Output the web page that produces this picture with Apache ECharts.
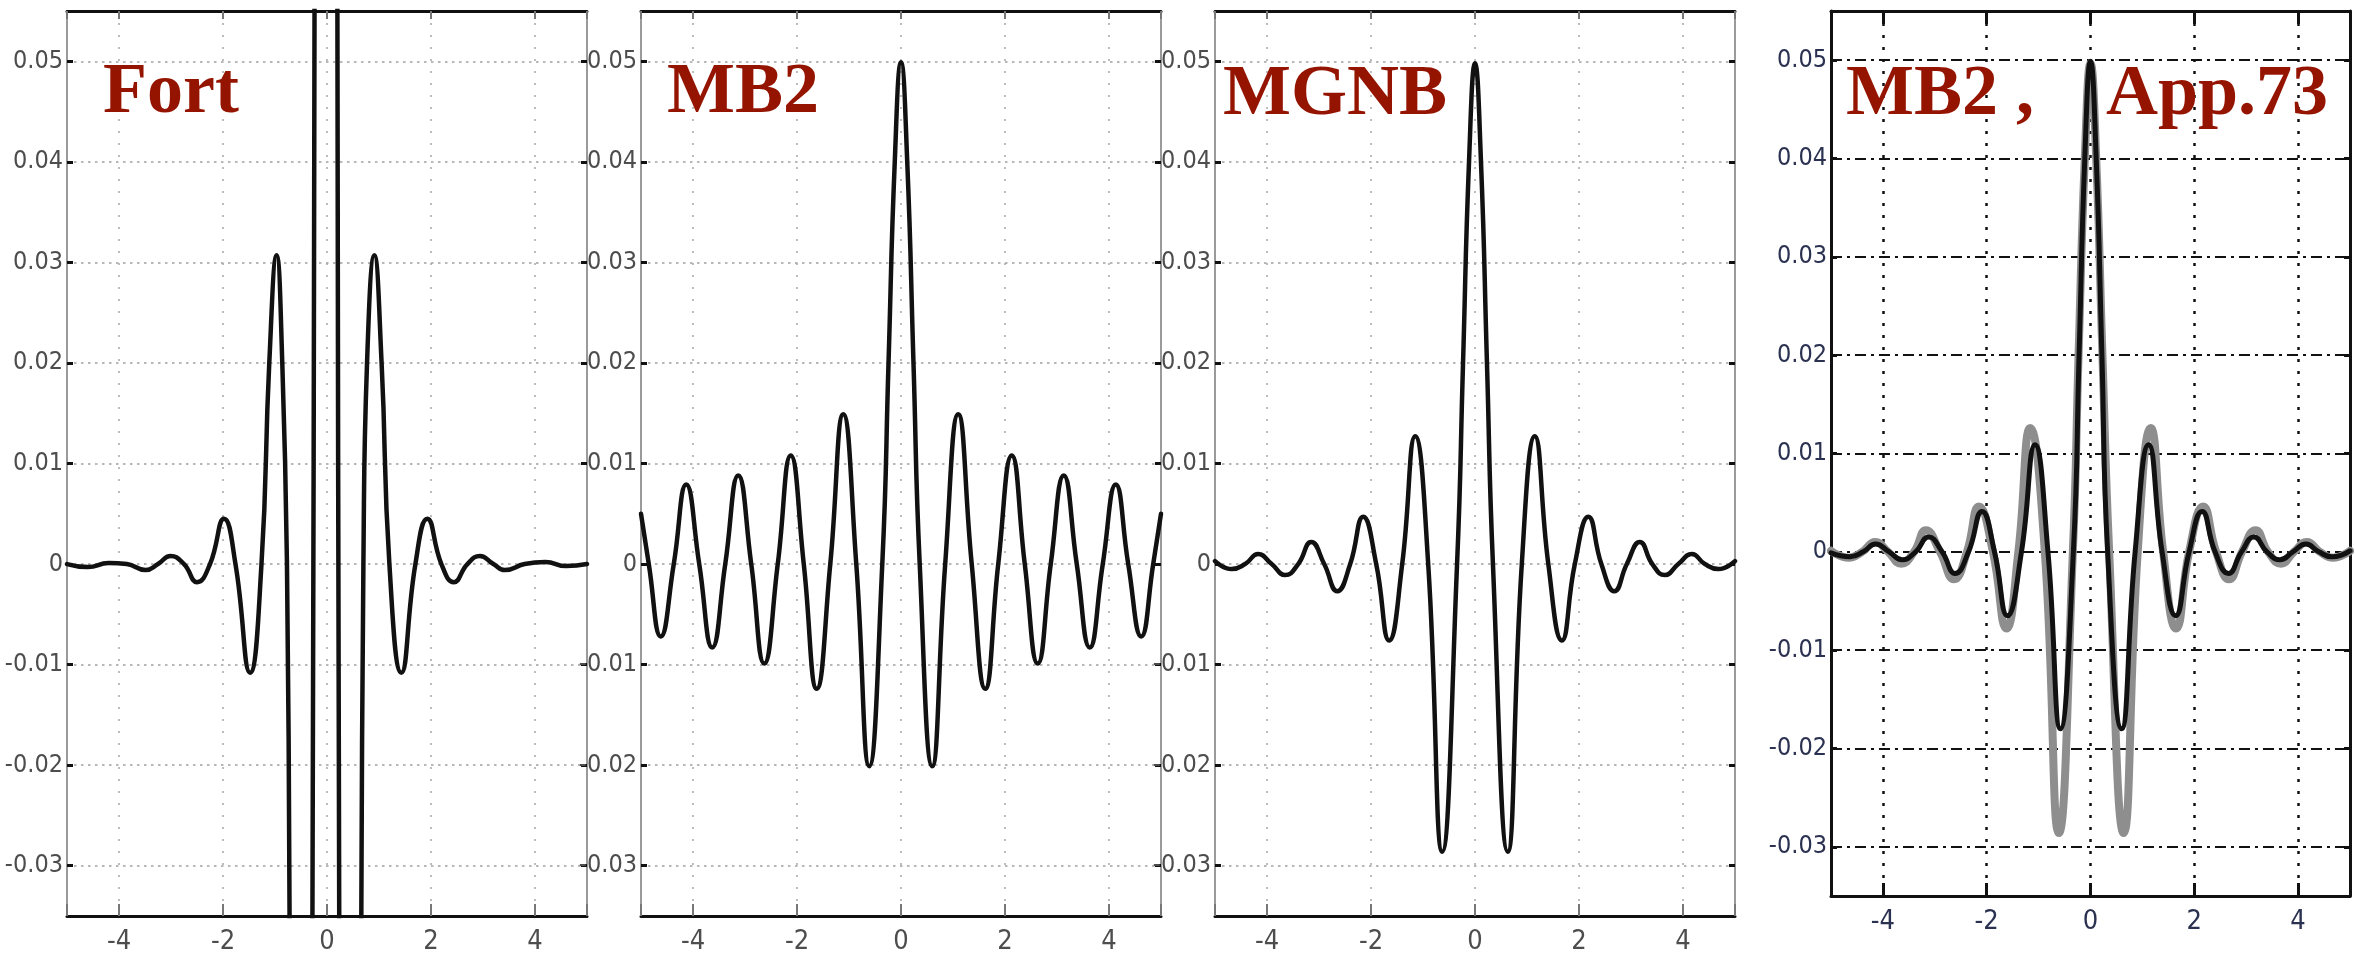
<!DOCTYPE html>
<html>
<head>
<meta charset="utf-8">
<script src="https://cdn.jsdelivr.net/npm/echarts@6/dist/echarts.min.js"></script>
<style>
  html, body { margin: 0; padding: 0; background: #ffffff; }
  #chart { width: 2355px; height: 965px; }
</style>
</head>
<body>
<div id="chart"></div>
<script>
// ---------- panel titles ----------
const panelTitles = ['Fort', 'MB2', 'MGNB', 'MB2 ,    App.73'];

// ---------- tick values / labels ----------
const xTickValues = [-4, -2, 0, 2, 4];
const xTickLabels = ['-4', '-2', '0', '2', '4'];
const yTickValues = [-0.03, -0.02, -0.01, 0, 0.01, 0.02, 0.03, 0.04, 0.05];
const yTickLabels = ['-0.03', '-0.02', '-0.01', '0', '0.01', '0.02', '0.03', '0.04', '0.05'];

// ---------- Fort (panel 1) ----------
const fortX = [-5.00, -4.60, -4.20, -3.85, -3.49, -3.25, -3.01, -2.75, -2.50, -2.25, -1.98, -1.76, -1.48, -1.26, -1.11, -0.97, -0.86, -0.77, -0.72, -0.60, -0.48, -0.36, -0.28, -0.24, -0.12, -0.02, 0.08, 0.20, 0.235, 0.32, 0.44, 0.56, 0.66, 0.70, 0.77, 0.91, 1.05, 1.20, 1.43, 1.70, 1.93, 2.20, 2.44, 2.70, 2.94, 3.20, 3.42, 3.80, 4.20, 4.60, 5.00];
const fortY = [0.0000, -0.0003, 0.0001, 0.0000, -0.0006, 0.0000, 0.0008, 0.0000, -0.0018, 0.0000, 0.0045, 0.0000, -0.0108, 0.0000, 0.0200, 0.0307, 0.0200, 0.0000, -0.0350, -0.1200, -0.1600, -0.1200, -0.0350, 0.0550, 0.2800, 0.3400, 0.2800, 0.0550, -0.0350, -0.1200, -0.1600, -0.1200, -0.0350, 0.0000, 0.0200, 0.0307, 0.0200, 0.0000, -0.0108, 0.0000, 0.0045, 0.0000, -0.0018, 0.0000, 0.0008, 0.0000, -0.0006, 0.0000, 0.0002, -0.0002, 0.0000];

// ---------- MB2 (panel 2) ----------
const mb2X = [-5.00, -4.85, -4.62, -4.37, -4.13, -3.88, -3.63, -3.38, -3.13, -2.88, -2.63, -2.37, -2.12, -1.87, -1.62, -1.36, -1.11, -0.86, -0.61, -0.36, -0.24, -0.12, 0.00, 0.12, 0.24, 0.36, 0.60, 0.85, 1.10, 1.36, 1.62, 1.87, 2.13, 2.38, 2.63, 2.88, 3.13, 3.38, 3.63, 3.88, 4.13, 4.37, 4.62, 4.85, 5.00];
const mb2Y = [0.0050, 0.0000, -0.0072, 0.0000, 0.0079, 0.0000, -0.0083, 0.0000, 0.0088, 0.0000, -0.0099, 0.0000, 0.0108, 0.0000, -0.0124, 0.0000, 0.0149, 0.0000, -0.0201, 0.0000, 0.0200, 0.0400, 0.0499, 0.0400, 0.0200, 0.0000, -0.0201, 0.0000, 0.0149, 0.0000, -0.0124, 0.0000, 0.0108, 0.0000, -0.0099, 0.0000, 0.0088, 0.0000, -0.0083, 0.0000, 0.0079, 0.0000, -0.0072, 0.0000, 0.0050];

// ---------- MGNB (panel 3) ----------
const mgnbX = [-5.00, -4.68, -4.42, -4.17, -3.91, -3.65, -3.40, -3.15, -2.90, -2.65, -2.40, -2.15, -1.90, -1.65, -1.40, -1.15, -0.90, -0.63, -0.345, -0.23, -0.115, 0.00, 0.115, 0.23, 0.345, 0.63, 0.90, 1.15, 1.41, 1.67, 1.92, 2.18, 2.43, 2.68, 2.92, 3.17, 3.41, 3.65, 3.91, 4.17, 4.42, 4.68, 5.00];
const mgnbY = [0.0003, -0.0005, 0.0000, 0.0010, 0.0000, -0.0011, 0.0000, 0.0022, 0.0000, -0.0027, 0.0000, 0.0047, 0.0000, -0.0076, 0.0000, 0.0127, 0.0000, -0.0286, 0.0000, 0.0200, 0.0400, 0.0498, 0.0400, 0.0200, 0.0000, -0.0286, 0.0000, 0.0127, 0.0000, -0.0076, 0.0000, 0.0047, 0.0000, -0.0027, 0.0000, 0.0022, 0.0000, -0.0011, 0.0000, 0.0010, 0.0000, -0.0005, 0.0003];

// ---------- MB2 vs App.73 (panel 4) ----------
const cmpBlackX = [-5.00, -4.63, -4.38, -4.14, -3.88, -3.63, -3.37, -3.12, -2.86, -2.61, -2.35, -2.09, -1.85, -1.60, -1.33, -1.07, -0.82, -0.58, -0.33, -0.22, -0.11, 0.00, 0.11, 0.22, 0.33, 0.60, 0.86, 1.12, 1.38, 1.64, 1.90, 2.15, 2.40, 2.66, 2.91, 3.15, 3.40, 3.65, 3.90, 4.15, 4.40, 4.65, 5.00];
const cmpBlackY = [-0.0001, -0.0005, 0.0000, 0.0008, 0.0000, -0.0008, 0.0000, 0.0015, 0.0000, -0.0022, 0.0000, 0.0041, 0.0000, -0.0065, 0.0000, 0.0109, 0.0000, -0.0180, 0.0000, 0.0200, 0.0400, 0.0499, 0.0400, 0.0200, 0.0000, -0.0180, 0.0000, 0.0109, 0.0000, -0.0065, 0.0000, 0.0041, 0.0000, -0.0022, 0.0000, 0.0015, 0.0000, -0.0008, 0.0000, 0.0008, 0.0000, -0.0005, 0.0001];
const cmpGrayX = [-5.00, -4.66, -4.40, -4.15, -3.90, -3.65, -3.40, -3.17, -2.90, -2.63, -2.38, -2.15, -1.88, -1.62, -1.39, -1.16, -0.88, -0.61, -0.34, -0.23, -0.11, 0.00, 0.11, 0.23, 0.36, 0.64, 0.91, 1.16, 1.40, 1.65, 1.90, 2.17, 2.42, 2.67, 2.92, 3.18, 3.42, 3.67, 3.92, 4.17, 4.42, 4.67, 5.00];
const cmpGrayY = [0.0001, -0.0006, 0.0000, 0.0010, 0.0000, -0.0012, 0.0000, 0.0022, 0.0000, -0.0028, 0.0000, 0.0046, 0.0000, -0.0078, 0.0000, 0.0126, 0.0000, -0.0286, 0.0000, 0.0200, 0.0400, 0.0497, 0.0400, 0.0200, 0.0000, -0.0286, 0.0000, 0.0126, 0.0000, -0.0078, 0.0000, 0.0046, 0.0000, -0.0028, 0.0000, 0.0022, 0.0000, -0.0012, 0.0000, 0.0010, 0.0000, -0.0006, 0.0001];

// ---------- helpers ----------
function pairs(xs, ys) { return xs.map((x, i) => [x, ys[i]]); }
function lookup(values, labels) {
  return function (v) {
    const i = values.findIndex(t => Math.abs(t - v) < 1e-9);
    return i < 0 ? '' : labels[i];
  };
}

const labelFont = "'Liberation Sans Narrow','DejaVu Sans Condensed','Arial Narrow','Liberation Sans',sans-serif";
const X_MIN = -5, X_MAX = 5, Y_MIN = -0.035, Y_MAX = 0.055;

const panels = [
  { left: 67, top: 11, width: 520, height: 905, classic: true },
  { left: 641, top: 11, width: 520, height: 905, classic: true },
  { left: 1215, top: 11, width: 520, height: 905, classic: true },
  { left: 1831, top: 11, width: 519, height: 885, classic: false }
];
const titleLeft = [103, 667, 1223, 1846];
const titleTop = [57, 57, 59, 59];

const grids = [], xAxes = [], yAxes = [], titles = [];
panels.forEach((p, i) => {
  grids.push({ left: p.left, top: p.top, width: p.width, height: p.height, containLabel: false });
  const frameH = { show: true, onZero: false, lineStyle: { color: '#111', width: 3 } };
  const frameV = p.classic
    ? { show: true, onZero: false, lineStyle: { color: '#9a9a9a', width: 2 } }
    : { show: true, onZero: false, lineStyle: { color: '#111', width: 3 } };
  const labelColor = p.classic ? '#4d4d4d' : '#2b3150';
  const vSplit = p.classic
    ? { show: true, lineStyle: { color: '#a8a8a8', width: 1.5, type: [2, 10] } }
    : { show: true, lineStyle: { color: '#111', width: 2.5, type: [3, 9] } };
  const hSplit = p.classic
    ? { show: true, lineStyle: { color: '#a0a0a0', width: 1.5, type: [2.5, 4.5] } }
    : { show: true, lineStyle: { color: '#111', width: 2, type: [11, 5, 3, 5] } };
  const xTick = p.classic
    ? { show: true, inside: true, length: 12, lineStyle: { color: '#777', width: 2 } }
    : { show: true, inside: true, length: 13, lineStyle: { color: '#111', width: 3 } };
  const yTick = { show: true, inside: true, length: 6, lineStyle: { color: '#111', width: 3 } };

  // bottom x axis (labels + vertical grid)
  xAxes.push({
    type: 'value', gridIndex: i, position: 'bottom', min: X_MIN, max: X_MAX,
    splitNumber: 5, minInterval: 2, maxInterval: 2,
    axisLine: frameH, axisTick: xTick, splitLine: vSplit,
    axisLabel: { show: true, margin: 12, color: labelColor, fontSize: 27, fontFamily: labelFont,
      formatter: lookup(xTickValues, xTickLabels) }
  });
  // top x axis (frame only)
  xAxes.push({
    type: 'value', gridIndex: i, position: 'top', min: X_MIN, max: X_MAX,
    splitNumber: 5, minInterval: 2, maxInterval: 2,
    axisLine: frameH, axisTick: Object.assign({}, xTick, { length: p.classic ? 8 : 13 }),
    splitLine: { show: false }, axisLabel: { show: false }
  });
  // left y axis (labels + horizontal grid)
  yAxes.push({
    type: 'value', gridIndex: i, position: 'left', min: Y_MIN, max: Y_MAX,
    splitNumber: 9, minInterval: 0.01, maxInterval: 0.01,
    axisLine: frameV, axisTick: yTick, splitLine: hSplit,
    axisLabel: { show: true, margin: 4, color: labelColor, fontSize: 25, fontFamily: labelFont,
      formatter: lookup(yTickValues, yTickLabels) }
  });
  // right y axis (frame only)
  yAxes.push({
    type: 'value', gridIndex: i, position: 'right', min: Y_MIN, max: Y_MAX,
    splitNumber: 9, minInterval: 0.01, maxInterval: 0.01,
    axisLine: frameV, axisTick: yTick, splitLine: { show: false }, axisLabel: { show: false }
  });

  titles.push({
    text: panelTitles[i], left: titleLeft[i], top: titleTop[i], padding: 0,
    textStyle: { fontFamily: "'Liberation Serif','Times New Roman',serif", fontWeight: 'bold',
      fontSize: 72, color: '#951400' }
  });
});

function lineSeries(name, gi, data, color, width) {
  return {
    name: name, type: 'line', xAxisIndex: gi * 2, yAxisIndex: gi * 2,
    data: data, showSymbol: false, symbol: 'none', smooth: 0.5, clip: true,
    lineStyle: { color: color, width: width, cap: 'round', join: 'round' },
    emphasis: { disabled: true }, silent: true, z: 5
  };
}

const series = [
  lineSeries('Fort', 0, pairs(fortX, fortY), '#111111', 4.5),
  lineSeries('MB2', 1, pairs(mb2X, mb2Y), '#111111', 4.5),
  lineSeries('MGNB', 2, pairs(mgnbX, mgnbY), '#111111', 4.5),
  lineSeries('App.73', 3, pairs(cmpGrayX, cmpGrayY), '#8e8e8e', 8),
  lineSeries('MB2 ref', 3, pairs(cmpBlackX, cmpBlackY), '#111111', 5)
];

const chart = echarts.init(document.getElementById('chart'), null, { renderer: 'canvas' });
chart.setOption({
  animation: false,
  backgroundColor: '#ffffff',
  title: titles,
  grid: grids,
  xAxis: xAxes,
  yAxis: yAxes,
  series: series
});
</script>
</body>
</html>
